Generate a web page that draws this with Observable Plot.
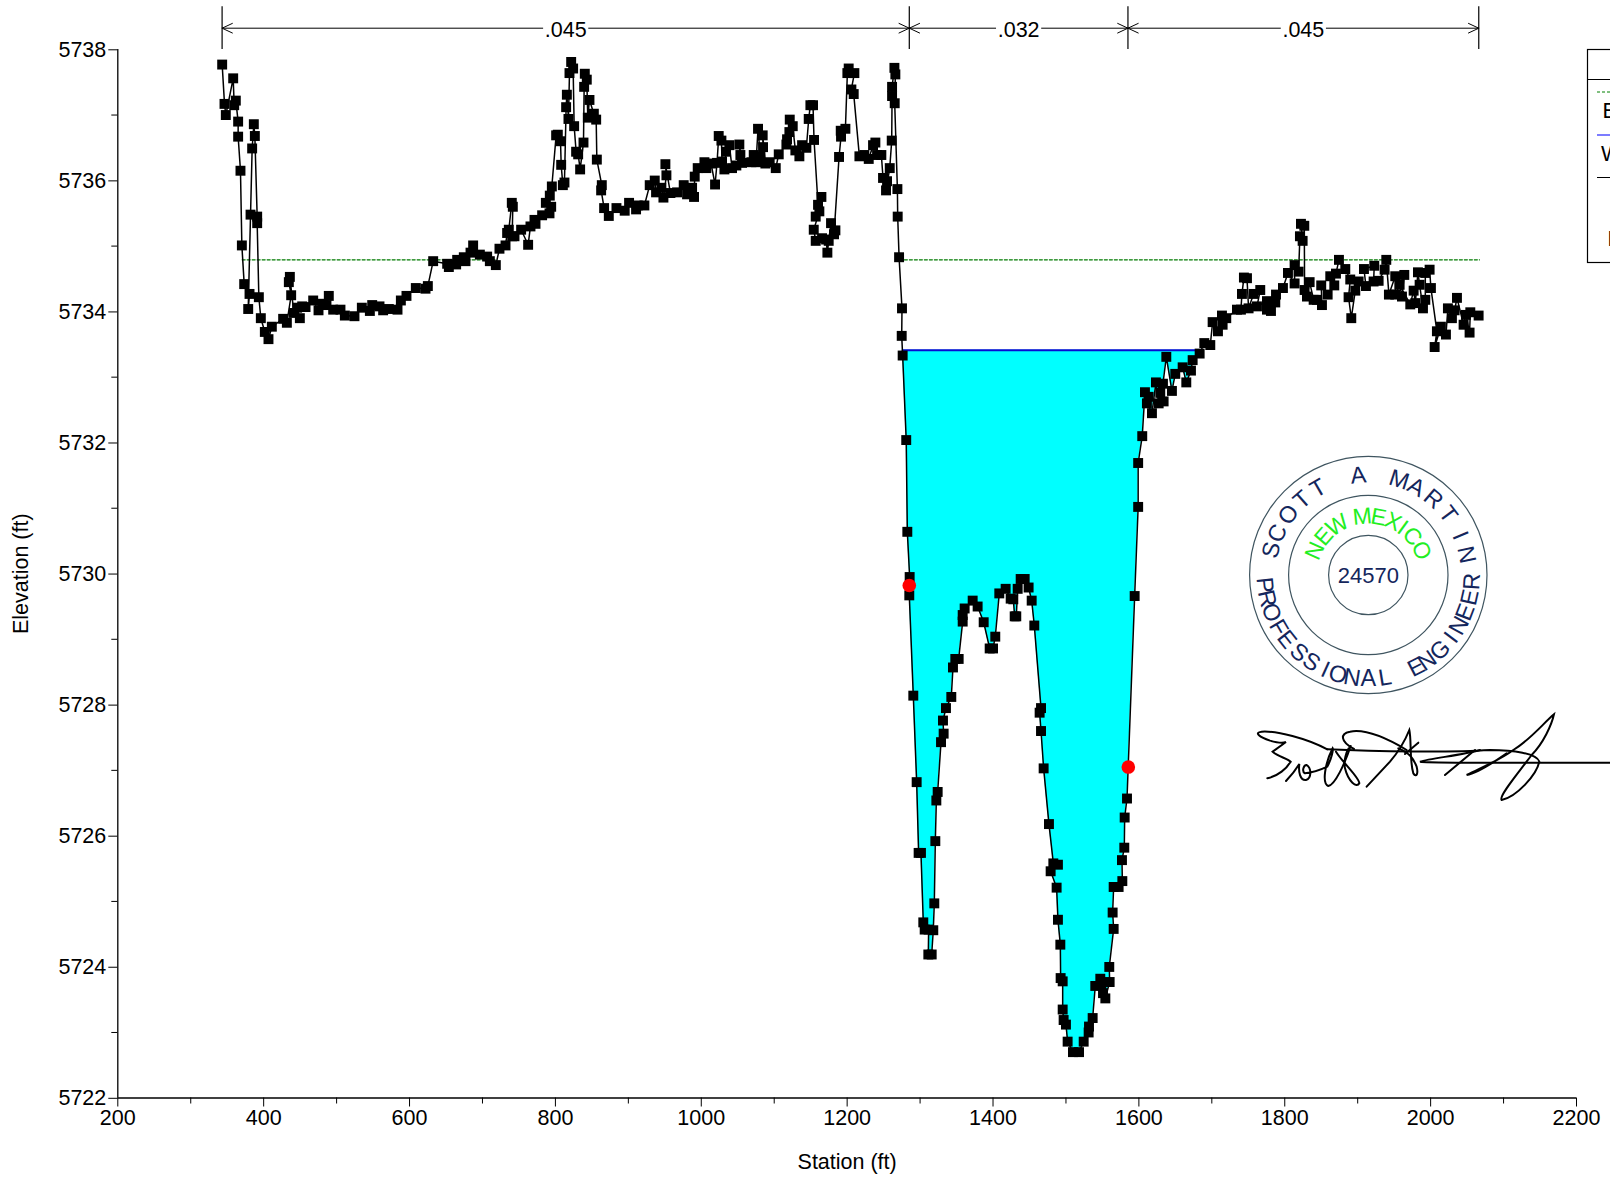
<!DOCTYPE html>
<html>
<head>
<meta charset="utf-8">
<style>html,body{margin:0;padding:0;background:#fff}svg{display:block}</style>
<script src="https://cdn.jsdelivr.net/npm/d3@7"></script>
<script src="https://cdn.jsdelivr.net/npm/@observablehq/plot@0.6"></script>
</head>
<body>
<div id="chart"></div>
<script>
const groundStation = [343.1,346.3,348.1,358.2,359.6,361.8,365,365,368.2,370.1,373.3,380.6,378.8,382,384.2,386.5,387.9,391.1,391.1,393.4,396.1,401.6,406.6,411.2,426.7,431.8,437.7,434.5,435.9,441.4,449.6,445.9,452.8,457.4,467.9,475.2,480.2,489.3,486.1,495.3,505.3,511.3,524.5,534.6,545.6,548.8,558.8,563.8,571.6,583.5,588.1,595.8,608.6,621.9,625.1,632.4,651.6,653.9,663.9,665.3,674.4,676.7,683.6,687.2,696.4,706.4,710.1,718.3,723.3,731.6,733.8,736.1,740.2,741.6,740.7,743.9,753,762.6,765.8,771.3,772.7,781.8,791.9,794.2,786.9,792.3,795.1,801,803.3,807,807.9,810.2,812.4,814.7,815.7,817.9,819.3,821.6,824.3,825.7,828.4,831.2,833.9,838.5,839.4,840.3,843,844.4,846.7,852.7,855.9,856.8,863.6,862.7,866.8,873.2,883.7,
895,901,910.6,912.9,922,929.3,936.2,938,945.3,948.1,952.2,950.8,957.7,966.8,975.9,980.5,987.4,990.1,991,995.1,1004.3,1007,1013.4,1018.9,1021.6,1023.9,1027.6,1028.5,1031.7,1034,1038.5,1042.2,1048.1,1053.6,1052.2,1055.9,1068.7,1071.9,1075.1,1077.8,1081,1084.7,1084.2,1087.9,1093.8,1102.1,1106.2,1116.7,1117.6,1120.8,1121.3,1125.4,1129,1134.5,1138.2,1144.1,1147.3,1149.6,1153.2,1154.6,1160.1,1164.7,1156.9,1161.9,1154.2,1156.9,1165.6,1171.1,1172.9,1174.7,1177.9,1183.9,1182,1188.9,1191.6,1191.2,1197.6,1200.3,1202.1,1209.9,1205.8,1209,1216.8,1223.6,1229.6,1235.5,1238.7,1241,1246.9,1249.2,1254.7,1253.3,1258.4,1261.1,1261.6,1261.6,1264.8,1266.1,1265.2,1268.9,1269.3,1271.2,1275.2,1274.8,1276.1,
1281,1282.5,1285.7,1285.2,1290.7,1295.3,1298,1301.2,1304.4,1306.3,1311.7,1311.3,1315.9,1318.1,1319.5,1320.9,1322.3,1324.1,1328.7,1332.3,1331.4,1335.5,1342.8,1345.1,1348.3,1352.9,1358.4,1358.4,1361.1,1372.1,1378.9,1387.2,1395.4,1400,1403.1,1408.6,1417.3,1424.2,1427.8,1429.7,1431.9,1433.8,1437.9,1443.4,1448.8,1453,1456.6,1465.8,1463.9,1465.8,1469.4,1476.7,1482.7,1489,1479,1487.2,1489,1492.3,1492.7,1495.5,1495.5,1496.8,1500,1502.3,1509.6,1517.9,1524.3,1531.1,1531.6,1536.6,1540.2,1547.1,1548.5,1550.8,1554,1559.9,1559.4,1565.4,1564,1565.4,1572.2,1577.3,1576.8,1580,1580.5,1583.7,1594.2,1599,1599,1604.6,
1608.3,1613.3,1611,1617.9,1623.4,1627.1,1629.3,1633.9,1633,1637.6,1645.3,1649.9,1660,1665,1671.4,1673.7,1683.3,1689.7,1697.9,1701.1,1708.4,1713.9,1714.8,1719.8,1734.5,1739.9,1741.3,1744,1748.2,1750.4,1757.3,1766.4,1761.9,1775.6,1775.6,1781.1,1787,1788,1797.5,1804.4,1813.5,1813.5,1819,1820.8,1824.5,1822.2,1826.8,1827.2,1830.4,1834.1,1839.6,1844.1,1851,1850,1858.8,1867.9,1862.4,1870.2,1874.3,1883,1889.8,1887.5,1891.2,1896.7,1901.3,1911.3,1908.6,1922.7,1921.8,1928.7,1936.9,1939.2,1942.8,1951.5,1951.5,1963.9,1960.7,1957.5,1972.1,1976.7,1979,1982.6,1984.9,1989.5,1992.7,1992.7,1998.6,2000.4,2008.6,2005.5,2014.1,2021,2023.7,2029.2,2032.9,2036.1,2045.2,2048.4,2053.4,2054.4,2065.8];
const groundElevation = [5737.77,5737.17,5737,5737.56,5737.15,5737.22,5736.9,5736.67,5736.15,5735.01,5734.42,5734.27,5734.04,5735.48,5736.49,5736.86,5736.68,5735.45,5735.35,5734.22,5733.9,5733.69,5733.58,5733.77,5733.89,5733.83,5734.25,5734.45,5734.53,5733.98,5733.9,5734.06,5734.08,5734.07,5734.17,5734.02,5734.12,5734.24,5734.1,5734.03,5734.03,5733.94,5733.93,5734.06,5734.01,5734.1,5734.08,5734.02,5734.04,5734.03,5734.17,5734.24,5734.36,5734.35,5734.39,5734.77,5734.73,5734.68,5734.72,5734.79,5734.83,5734.77,5734.9,5735.01,5734.87,5734.84,5734.77,5734.71,5734.96,5735.01,5735.2,5735.25,5735.66,5735.6,5735.15,5735.15,5735.25,5735.02,5735.3,5735.4,5735.34,5735.47,5735.5,5735.6,5735.66,5735.77,5735.91,5736.69,5736.7,5736.6,5736.24,5735.93,5735.97,5737.12,5737.31,5736.94,5737.64,5737.81,5737.71,5736.83,5736.44,5736.4,5736.17,5736.58,5737.43,5737.63,5737.54,5736.96,5737.23,5737.02,5736.93,5736.32,5735.93,5735.85,5735.58,5735.46,5735.58,
5735.54,5735.66,5735.56,5735.62,5735.62,5735.93,5736,5735.82,5735.89,5735.74,5736.08,5736.25,5735.81,5735.82,5735.93,5735.79,5735.89,5735.75,5736.06,5736.19,5736.28,5736.19,5736.26,5735.94,5736.27,5736.68,5736.61,5736.29,5736.17,5736.44,5736.54,5736.19,5736.23,5736.39,5736.55,5736.27,5736.28,5736.39,5736.28,5736.79,5736.36,5736.51,5736.69,5736.26,5736.28,5736.19,5736.4,5736.55,5736.63,5736.74,5736.93,5736.83,5736.46,5736.37,5736.54,5736.5,5736.94,5737.15,5737.15,5736.62,5735.63,5735.75,5735.45,5735.53,5735.25,5735.08,5735.12,5735.1,5734.9,5735.08,5735.35,5735.24,5735.18,5736.36,5736.67,5736.76,5736.79,5737.64,5737.71,5737.64,5737.39,5737.32,5736.37,5736.39,5736.33,5736.54,5736.58,5736.39,5736.39,5736.04,5735.99,5735.85,5736.19,5736.61,5737.29,5737.43,5737.72,5737.62,5737.18,5735.87,5735.45,5734.83,5734.05,5733.63,5733.33,
5732.04,5730.64,5729.95,5729.67,5728.14,5726.82,5725.74,5725.74,5724.68,5724.57,5724.57,5724.19,5724.19,5724.56,5724.97,5725.92,5726.54,5726.67,5727.43,5727.56,5727.76,5727.95,5728.12,5728.57,5728.7,5728.7,5729.27,5729.37,5729.47,5729.59,5729.5,5729.26,5728.86,5728.86,5729.04,5729.7,5729.77,5729.62,5729.61,5729.35,5729.35,5729.77,5729.92,5729.92,5729.79,5729.59,5729.21,5727.95,5727.88,5727.6,5727.03,5726.18,5725.58,5725.56,5725.46,5725.21,5724.72,5724.34,5723.83,5723.78,5723.35,5723.19,5723.12,5722.86,5722.7,5722.7,5722.86,5723,5723.09,5723.22,5723.71,5723.82,5723.72,5723.6,5723.52,5723.77,5724,5724.58,5724.83,5725.22,5725.22,5725.31,5725.63,5725.82,5726.28,5726.57,5729.66,5731.02,5731.69,5732.1,
5732.77,5732.7,5732.6,5732.45,5732.92,5732.6,5732.76,5732.63,5732.9,5733.31,5732.79,5733.05,5733.15,5732.92,5733.1,5733.26,5733.36,5733.52,5733.49,5733.84,5733.7,5733.94,5733.8,5733.9,5734.03,5734.03,5734.27,5734.52,5734.51,5734.05,5734.27,5734.33,5734.08,5734.16,5734.03,5734.01,5734.14,5734.26,5734.36,5734.59,5734.43,5734.71,5734.61,5735.15,5735.08,5735.34,5735.31,5734.33,5734.23,5734.45,5734.18,5734.18,5734.1,5734.4,5734.26,5734.4,5734.54,5734.58,5734.79,5734.65,5734.49,5734.22,5733.9,5734.32,5734.46,5734.39,5734.65,5734.7,5734.46,5734.47,5734.64,5734.79,5734.26,5734.54,5734.26,5734.56,5734.23,5734.41,5734.11,5734.32,5734.13,5734.6,5734.41,5734.05,5734.18,5734.59,5734.64,5734.36,5733.7,5733.46,5733.77,5733.65,5734.05,5733.9,5734.02,5734.21,5733.8,5733.95,5733.68,5733.99,5733.94];

const bankStation = [1285.2,1585.5];
const bankElevation = [5729.82,5727.05];
const waterSurface = 5733.41;
const waterExtent = [1276.1,1686.5];
const energyGrade = 5734.79;
const energySegments = [[370.5,718.3],[1271.6,2067]];
const nBreaks = [343,1285.2,1585,2066];
const nValues = [".045",".032",".045"];
const nLabelHalfGap = 31.5;
const xMajor = [200,400,600,800,1000,1200,1400,1600,1800,2000,2200];
const xMinor = [300,500,700,900,1100,1300,1500,1700,1900,2100];
const yMajor = [5722,5724,5726,5728,5730,5732,5734,5736,5738];
const yMinor = [5723,5725,5727,5729,5731,5733,5735,5737];
const legendLabels = ["E","W","B"];
const sealNumber = "24570";
const sealTop = [..."SCOTTAMARTIN"];
const sealTopAngles = [-75.6,-65.4,-53,-41.4,-30,-5.8,17.9,28.7,40.5,52.8,66.8,78.3];
const sealBottom = [..."PROFESSIONALENGINEER"];
const sealBottomAngles = [84.5,76.9,68.8,59.6,51.6,41.7,33.2,24.4,17,9,0,-9.2,-27.4,-34.5,-43.7,-53,-60.8,-69,-77.5,-86.4];
const sealState = [..."NEWMEXICO"];
const sealStateAngles = [-65.6,-49,-31.8,-5.9,10.2,25,36,48.7,65.3];
const signatureStrokes = [
 "M232,148 C170,115 80,92 35,95 C10,98 30,112 60,122 C80,128 100,130 108,126 L68,155 C85,170 110,175 122,185 C110,205 85,228 52,235",
 "M108,243 C125,225 140,205 148,192 C145,215 150,242 168,240 C185,235 185,205 170,195 C160,195 155,215 165,220 C190,218 215,208 232,200 C245,175 250,150 248,145 C225,190 215,250 235,258 C255,255 285,190 302,138",
 "M258,155 C280,190 330,235 328,250 C320,265 295,245 285,205 C280,180 290,155 296,145",
 "M312,147 C270,125 270,100 300,95 C350,85 420,120 470,150",
 "M232,148 C380,155 600,158 720,150 C790,150 860,160 868,185 C860,225 800,290 755,300 C745,290 800,225 845,165 C880,130 905,75 912,43 C880,70 840,120 790,150 C750,180 700,200 650,225 C680,220 720,195 770,160",
 "M350,260 L420,185 C450,150 470,110 478,90 C485,120 478,180 490,220 C500,235 505,220 500,200 C490,175 480,160 445,145",
 "M505,128 L465,162",
 "M690,150 C640,165 540,175 510,185 C560,190 800,188 1080,188",
 "M585,225 L675,150"
];

const ground = groundStation.map((station,i)=>({station,elevation:groundElevation[i]}));
const banks = bankStation.map((station,i)=>({station,elevation:bankElevation[i]}));
const channel = ground.slice(groundStation.indexOf(waterExtent[0]),groundStation.indexOf(1683.3)+1);
const nSpans = nValues.map((label,i)=>({label,from:nBreaks[i],to:nBreaks[i+1],mid:(nBreaks[i]+nBreaks[i+1])/2}));
const font = "Liberation Sans, Arial, sans-serif";

function legendMark(){
  const g = d3.create("svg:g").attr("font-family",font).attr("font-size",21.5).attr("text-anchor","start");
  g.append("rect").attr("x",1587.5).attr("y",49.5).attr("width",60).attr("height",213).attr("fill","#fff").attr("stroke","#000").attr("stroke-width",1.2);
  g.append("line").attr("x1",1587.5).attr("x2",1640).attr("y1",79.5).attr("y2",79.5).attr("stroke","#000").attr("stroke-width",1);
  g.append("line").attr("x1",1597).attr("x2",1640).attr("y1",92).attr("y2",92).attr("stroke","#008000").attr("stroke-dasharray","3 2");
  g.append("line").attr("x1",1597).attr("x2",1640).attr("y1",135).attr("y2",135).attr("stroke","#5050ff").attr("stroke-width",1.5);
  g.append("line").attr("x1",1597).attr("x2",1640).attr("y1",177.5).attr("y2",177.5).attr("stroke","#000");
  [[1602.5,118],[1601,161],[1607.5,246]].forEach(([x,y],i)=>g.append("text").attr("x",x).attr("y",y).attr("fill","#000").text(legendLabels[i]));
  return g.node();
}
function sealMark(){
  const g = d3.create("svg:g").attr("transform","translate(1368.3,575)").attr("font-family",font).attr("text-anchor","middle");
  [118.7,79.7,39.7].forEach(r=>g.append("circle").attr("r",r).attr("fill","none").attr("stroke","#3f5560").attr("stroke-width",1.2));
  const ink = "#14265c";
  const put = (letters,angles,radius,fill,size,flip)=>letters.forEach((c,i)=>{
    g.append("text").attr("transform",flip?`rotate(${angles[i]}) translate(0,${radius})`:`rotate(${angles[i]}) translate(0,${-radius})`)
     .attr("dy","0.36em").attr("fill",fill).attr("font-size",size).text(c);
  });
  put(sealTop,sealTopAngles,101,ink,23.5);
  put(sealBottom,sealBottomAngles,103,ink,23.5,true);
  put(sealState,sealStateAngles,59.5,"#22ee22",23);
  g.append("text").attr("dy","0.36em").attr("fill",ink).attr("font-size",22).text(sealNumber);
  return g.node();
}
function signatureMark(){
  const g = d3.create("svg:g").attr("transform","translate(1250,700) scale(0.3333)").attr("fill","none").attr("stroke","#000").attr("stroke-width",6).attr("stroke-linecap","round");
  signatureStrokes.forEach(d=>g.append("path").attr("d",d));
  return g.node();
}

const plot = Plot.plot({
  width:1610,height:1180,marginLeft:117.3,marginRight:34,marginTop:49,marginBottom:82.5,
  style:{fontFamily:font,fontSize:"21.5px",background:"#fff",color:"#000"},
  x:{domain:[200,2200],axis:null},
  y:{domain:[5722,5738],axis:null},
  marks:[
    Plot.areaY(channel,{x:"station",y1:"elevation",y2:()=>waterSurface,fill:"#00ffff",curve:"linear"}),
    ...energySegments.map(s=>Plot.lineY(s,{x:d=>d,y:()=>energyGrade,stroke:"#007a00",strokeWidth:1.2,strokeDasharray:"3 2"})),
    Plot.lineY(waterExtent,{x:d=>d,y:()=>waterSurface,stroke:"#0a0ad2",strokeWidth:2}),
    Plot.line(ground,{x:"station",y:"elevation",stroke:"#000",strokeWidth:1.5}),
    Plot.dot(ground,{x:"station",y:"elevation",symbol:"square",r:5.6,fill:"#000"}),
    Plot.dot(banks,{x:"station",y:"elevation",r:6.8,fill:"#ff0000"}),
    Plot.ruleX(nBreaks,{y1:5738.0,y2:5738.654,stroke:"#000",strokeWidth:1.2}),
    Plot.arrow(nSpans,{x1:d=>d.mid-nLabelHalfGap,x2:"from",y1:5738.325,y2:5738.325,bend:0,stroke:"#000",strokeWidth:1,headLength:17,headAngle:50}),
    Plot.arrow(nSpans,{x1:d=>d.mid+nLabelHalfGap,x2:"to",y1:5738.325,y2:5738.325,bend:0,stroke:"#000",strokeWidth:1,headLength:17,headAngle:50}),
    Plot.text(nSpans,{x:"mid",y:5738.325,text:"label",fontSize:21.5,dy:2,fill:"#000"}),
    Plot.ruleX([200],{stroke:"#000",strokeWidth:1.3}),
    Plot.ruleY([5722],{stroke:"#000",strokeWidth:1.3}),
    Plot.axisX(xMajor,{tickSize:9,tickPadding:3,tickFormat:d=>String(d),fontSize:21.5,stroke:"#000",label:"Station (ft)",labelAnchor:"center",labelArrow:"none",labelOffset:71}),
    Plot.axisX(xMinor,{tickSize:6,fill:"none",stroke:"#000",label:null}),
    Plot.axisY(yMajor,{tickSize:9,tickPadding:2.5,dy:0.3,tickFormat:d=>String(d),fontSize:21.5,stroke:"#000",label:"Elevation (ft)",labelAnchor:"center",labelArrow:"none",labelOffset:105}),
    Plot.axisY(yMinor,{tickSize:6,fill:"none",stroke:"#000",label:null}),
    sealMark,
    signatureMark,
    legendMark
  ]
});
document.getElementById("chart").append(plot);
</script>
</body>
</html>
